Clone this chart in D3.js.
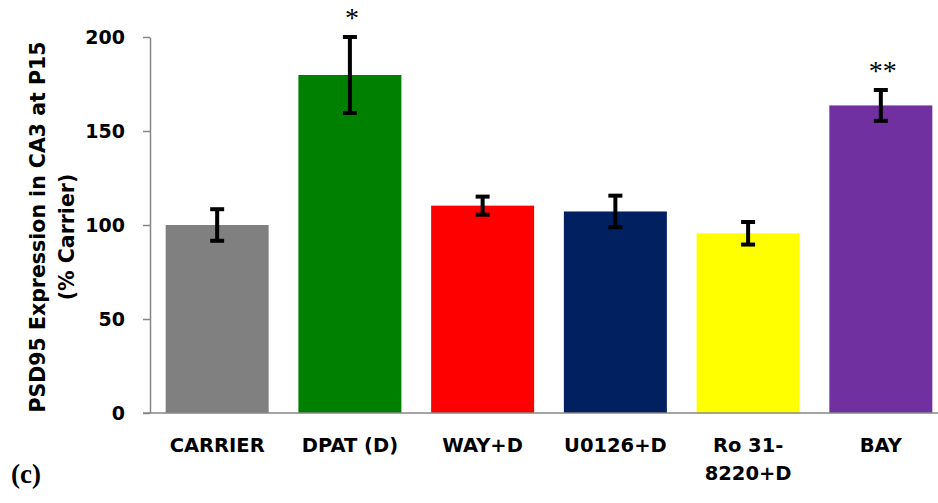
<!DOCTYPE html>
<html>
<head>
<meta charset="utf-8">
<script src="https://cdn.jsdelivr.net/npm/d3@7"></script>
<style>
  html, body { margin: 0; padding: 0; background: #fff; }
  svg { display: block; }
</style>
</head>
<body>
<svg id="chart" width="938" height="503"></svg>
<script>
// Groups, bar heights (% of carrier), error half-widths and significance marks
const categories = ["CARRIER", "DPAT (D)", "WAY+D", "U0126+D", "Ro 31-\n8220+D", "BAY"];
const means = [100, 179.8, 110.3, 107.2, 95.6, 163.6];
const errors = [8.4, 20.2, 4.8, 8.4, 6.0, 8.2];
const marks = ["", "*", "", "", "", "**"];
const barColors = ["#808080", "#008000", "#FF0000", "#002060", "#FFFF00", "#7030A0"];
const yTicks = [0, 50, 100, 150, 200];

const sansBold = "'DejaVu Sans', Verdana, sans-serif";
const serif = "'Liberation Serif', 'Times New Roman', serif";

const svg = d3.select("#chart");
const axisX = 150, y0 = 413, yTop = 37;

const x = d3.scaleBand()
  .domain(categories)
  .range([axisX, 948])
  .paddingInner(0.224)
  .paddingOuter(0.118);

const y = d3.scaleLinear().domain([0, 200]).range([y0, yTop]);

// Bars
svg.append("g").selectAll("rect")
  .data(categories)
  .join("rect")
  .attr("x", d => x(d))
  .attr("y", (d, i) => y(means[i]))
  .attr("width", x.bandwidth())
  .attr("height", (d, i) => y0 - y(means[i]))
  .attr("fill", (d, i) => barColors[i]);

// Y axis
const yAxis = svg.append("g")
  .attr("transform", `translate(${axisX},0)`)
  .call(d3.axisLeft(y).tickValues(yTicks).tickSize(7).tickPadding(18).tickSizeOuter(0));
yAxis.select(".domain").attr("stroke", "#878787").attr("stroke-width", 1.5);
yAxis.selectAll(".tick line").attr("stroke", "#878787").attr("stroke-width", 1.5);
yAxis.selectAll(".tick text")
  .attr("font-family", sansBold)
  .attr("font-weight", "bold")
  .attr("font-size", 19)
  .attr("fill", "#000");

// X axis baseline
svg.append("line")
  .attr("x1", axisX - 7).attr("x2", 938)
  .attr("y1", y0).attr("y2", y0)
  .attr("stroke", "#878787").attr("stroke-width", 1.5);

// Error bars
const eb = svg.append("g").attr("stroke", "#000").attr("stroke-width", 4);
categories.forEach((c, i) => {
  const cx = x(c) + x.bandwidth() / 2;
  const hi = y(means[i] + errors[i]);
  const lo = y(means[i] - errors[i]);
  eb.append("line").attr("x1", cx).attr("x2", cx).attr("y1", hi).attr("y2", lo);
  eb.append("line").attr("x1", cx - 7).attr("x2", cx + 7).attr("y1", hi).attr("y2", hi);
  eb.append("line").attr("x1", cx - 7).attr("x2", cx + 7).attr("y1", lo).attr("y2", lo);
});

// Significance marks
categories.forEach((c, i) => {
  if (!marks[i]) return;
  svg.append("text")
    .attr("x", x(c) + x.bandwidth() / 2 + 2)
    .attr("y", y(means[i] + errors[i]) - 10)
    .attr("text-anchor", "middle")
    .attr("font-family", serif)
    .attr("font-size", 28)
    .attr("fill", "#000")
    .text(marks[i]);
});

// Category labels
categories.forEach(c => {
  const cx = x(c) + x.bandwidth() / 2;
  const t = svg.append("text")
    .attr("x", cx)
    .attr("y", 452)
    .attr("text-anchor", "middle")
    .attr("font-family", sansBold)
    .attr("font-weight", "bold")
    .attr("font-size", 19.5)
    .attr("fill", "#000");
  c.split("\n").forEach((l, k) => {
    t.append("tspan").attr("x", cx).attr("dy", k === 0 ? 0 : 28).text(l);
  });
});

// Y axis title
const title = svg.append("text")
  .attr("transform", `translate(45,${(y0 + yTop) / 2 + 2}) rotate(-90)`)
  .attr("text-anchor", "middle")
  .attr("font-family", sansBold)
  .attr("font-weight", "bold")
  .attr("font-size", 20.5)
  .attr("fill", "#000");
title.append("tspan").attr("x", 0).attr("dy", 0).text("PSD95 Expression in CA3 at P15");
title.append("tspan").attr("x", -10).attr("dy", 29).text("(% Carrier)");

// Panel letter
svg.append("text")
  .attr("x", 11).attr("y", 483)
  .attr("font-family", serif)
  .attr("font-weight", "bold")
  .attr("font-size", 27)
  .attr("fill", "#000")
  .text("(c)");
</script>
</body>
</html>
